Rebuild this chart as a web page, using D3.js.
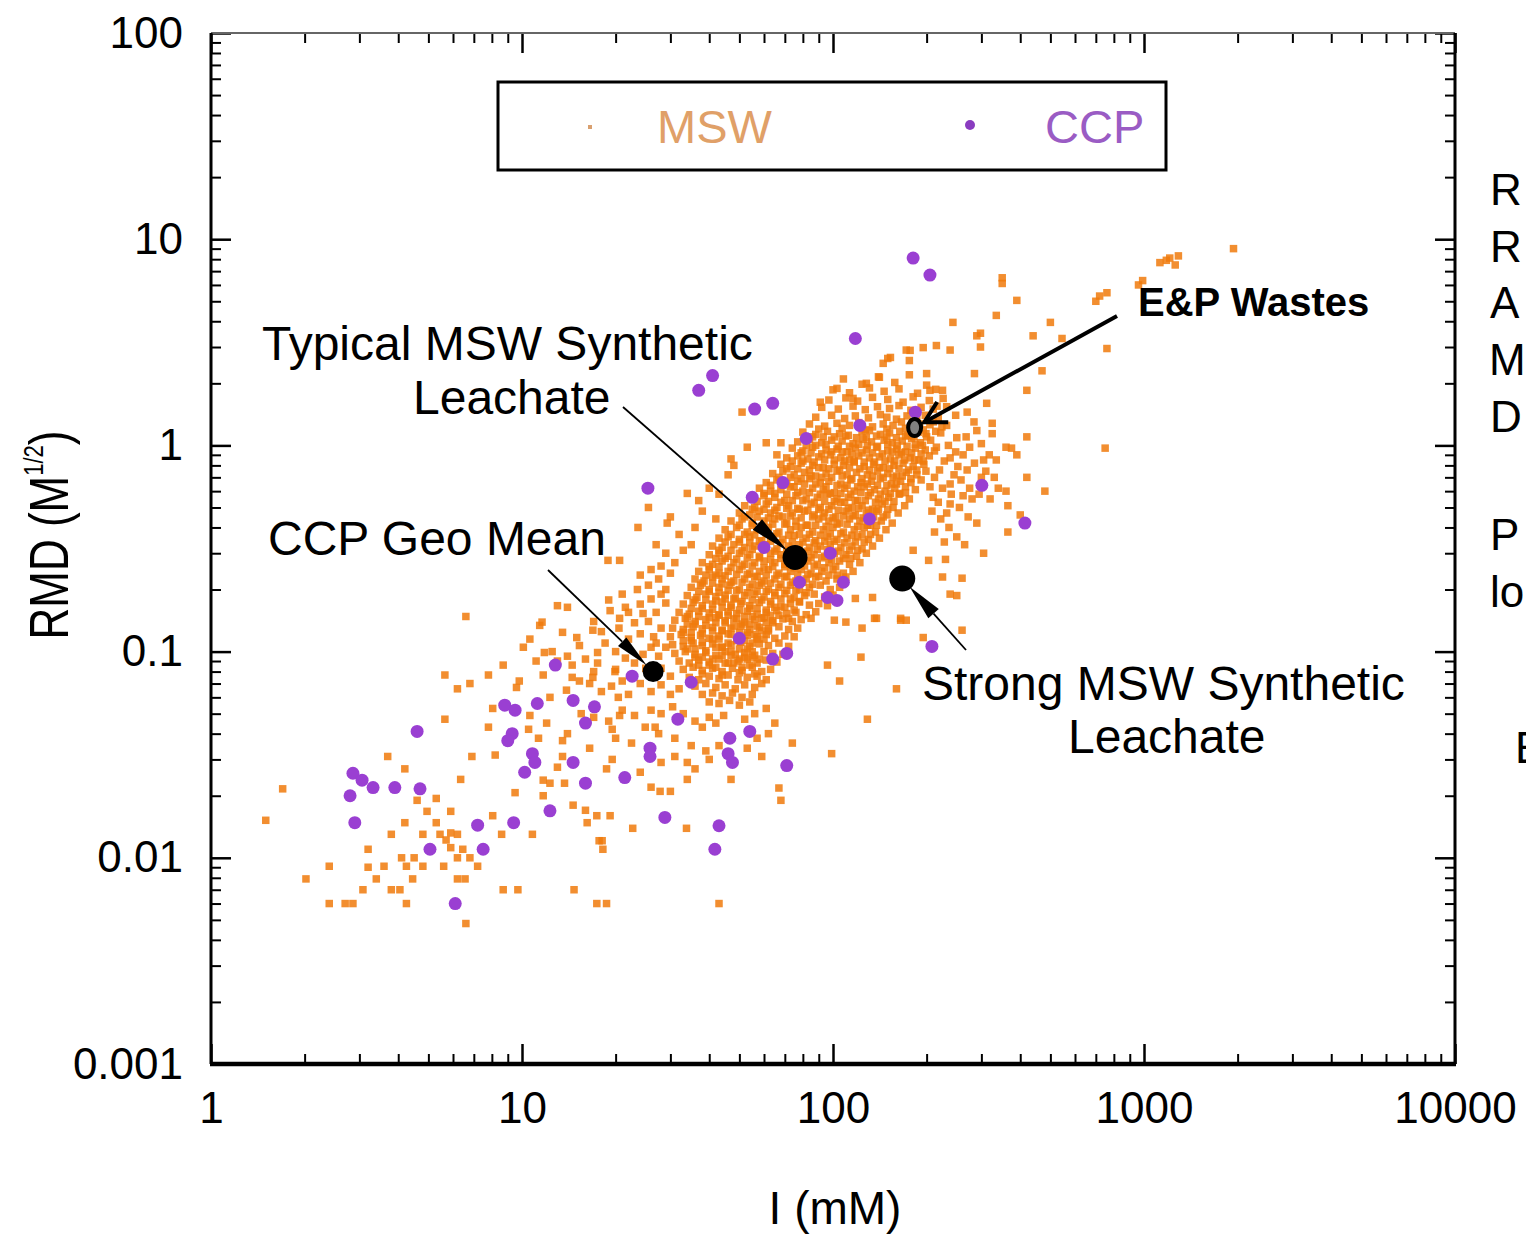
<!DOCTYPE html>
<html>
<head>
<meta charset="utf-8">
<script src="https://cdn.jsdelivr.net/npm/d3@7"></script>
<style>
  body { margin: 0; background: #fff; }
  svg text { font-family: "Liberation Sans", Arial, Helvetica, sans-serif; }
</style>
</head>
<body>
<script>
// ionic strength I (mM) vs RMD (M^1/2)

// dense MSW cloud
const mswCore = [
  [108,2.1],[124,1.98],[140,2.15],[158,2.02],[176,2.2],[200,1.96],
  [100,1.86],[113,1.8],[131,1.9],[146,1.83],[163,1.88],[187,1.79],[214,1.87],
  [97,1.66],[110,1.7],[120,1.64],[134,1.71],[150,1.67],[168,1.62],[181,1.72],[204,1.65],[226,1.69],
  [92,1.53],[104,1.5],[116,1.55],[127,1.49],[139,1.54],[152,1.51],[163,1.56],[178,1.48],[192,1.53],[210,1.5],[232,1.54],
  [88,1.37],[99,1.4],[109,1.35],[118,1.39],[130,1.36],[142,1.41],[149,1.37],[160,1.34],[173,1.39],[186,1.36],[198,1.4],[218,1.35],
  [84,1.27],[94,1.24],[103,1.28],[113,1.25],[121,1.29],[134,1.23],[145,1.27],[156,1.25],[166,1.3],[178,1.24],[190,1.27],[205,1.26],[224,1.23],
  [80,1.16],[88,1.13],[96,1.17],[105,1.14],[112,1.12],[124,1.16],[131,1.18],[142,1.13],[152,1.15],[164,1.17],[174,1.12],[188,1.16],[199,1.14],[214,1.17],
  [77,1.04],[84,1.07],[92,1.03],[99,1.06],[107,1.05],[116,1.02],[125,1.07],[133,1.04],[146,1.06],[155,1.03],[167,1.05],[179,1.08],[191,1.03],[206,1.06],
  [74,.97],[80,.94],[86,.98],[95,.95],[103,.96],[111,.93],[118,.97],[128,.95],[138,.98],[150,.94],[160,.96],[171,.93],[184,.97],[198,.95],[212,.94],
  [71,.87],[77,.89],[83,.86],[90,.88],[98,.9],[106,.87],[113,.85],[121,.89],[131,.87],[141,.88],[153,.86],[163,.9],[177,.87],[189,.85],[204,.89],
  [68,.81],[73,.79],[79,.82],[86,.8],[93,.78],[101,.81],[108,.8],[117,.83],[126,.79],[135,.81],[145,.78],[157,.8],[168,.82],[181,.79],[196,.81],
  [64,.73],[69,.75],[75,.72],[81,.74],[88,.71],[95,.73],[103,.75],[111,.72],[119,.74],[129,.72],[139,.75],[150,.73],[160,.71],[172,.74],[186,.72],[199,.75],
  [61,.66],[66,.68],[71,.65],[77,.67],[84,.69],[91,.66],[97,.67],[106,.65],[114,.68],[123,.66],[133,.67],[142,.69],[154,.65],[165,.67],[178,.66],[192,.68],
  [58,.62],[63,.6],[68,.61],[73,.63],[80,.6],[86,.62],[93,.61],[101,.59],[109,.62],[117,.6],[126,.63],[136,.61],[147,.6],[158,.62],[171,.59],[184,.61],
  [55,.55],[60,.57],[65,.56],[70,.54],[76,.57],[82,.55],[89,.56],[96,.58],[103,.55],[112,.56],[120,.54],[130,.57],[140,.55],[151,.56],[163,.58],[176,.55],
  [52,.51],[56,.5],[61,.52],[66,.5],[72,.51],[78,.49],[85,.52],[91,.5],[99,.51],[106,.53],[115,.5],[124,.51],[134,.49],[144,.52],[156,.5],[170,.51],
  [50,.47],[54,.46],[58,.48],[63,.47],[69,.45],[74,.47],[81,.48],[87,.46],[94,.47],[102,.45],[110,.48],[118,.46],[128,.47],[138,.48],[149,.46],[162,.47],
  [47,.43],[51,.44],[55,.42],[60,.43],[65,.44],[71,.42],[76,.43],[83,.41],[90,.44],[97,.43],[105,.42],[113,.44],[122,.43],[132,.41],[143,.43],[155,.42],
  [45,.39],[49,.4],[53,.38],[57,.39],[62,.4],[67,.38],[73,.39],[79,.4],[86,.38],[93,.39],[100,.4],[108,.38],[117,.39],[126,.4],[137,.38],[148,.39],
  [43,.355],[46,.36],[50,.35],[54,.36],[59,.345],[64,.36],[69,.35],[75,.365],[82,.355],[88,.345],[96,.36],[103,.35],[111,.355],[120,.36],[130,.35],[141,.355],
  [41,.325],[44,.32],[48,.33],[52,.32],[56,.325],[61,.33],[66,.315],[72,.325],[78,.33],[84,.32],[91,.325],[98,.33],[106,.32],[115,.325],[124,.315],[134,.325],
  [40,.295],[43,.3],[46,.29],[50,.3],[54,.295],[58,.29],[63,.3],[68,.295],[74,.29],[80,.3],[87,.295],[94,.29],[101,.3],[110,.295],[119,.29],[128,.3],
  [38,.27],[41,.265],[44,.275],[48,.27],[52,.265],[56,.27],[60,.275],[65,.27],[70,.265],[76,.27],[83,.275],[89,.265],[97,.27],[105,.275],[113,.265],[122,.27],
  [37,.245],[40,.25],[43,.24],[46,.245],[50,.25],[54,.24],[58,.245],[62,.25],[67,.24],[73,.245],[79,.25],[85,.24],[92,.245],[100,.25],[108,.24],[116,.245],
  [36,.225],[38.5,.22],[41,.23],[44,.225],[48,.22],[52,.225],[56,.23],[60,.22],[65,.225],[70,.23],[76,.22],[82,.225],[88,.23],[95,.22],[103,.225],[110,.23],
  [35,.205],[37.5,.21],[40,.2],[43,.205],[46.5,.21],[50,.2],[54,.205],[58,.21],[62,.2],[67,.205],[73,.21],[78,.2],[84,.205],[91,.21],[98,.2],[105,.205],
  [34,.187],[36.5,.183],[39,.19],[42,.185],[45,.188],[48.5,.182],[52,.187],[56,.19],[60,.184],[65,.187],[70,.191],[75,.183],[81,.187],[87,.19],[94,.184],[100,.188],
  [33,.17],[35.5,.173],[38,.167],[41,.17],[44,.174],[47,.168],[50.5,.171],[54,.167],[58,.173],[63,.17],[68,.166],[73,.171],[78,.174],[84,.168],[90,.171],[96,.167],
  [32,.155],[34.5,.152],[37,.157],[40,.154],[43,.151],[46,.156],[49,.153],[53,.157],[57,.152],[61,.155],[66,.158],[71,.153],[76,.155],[82,.151],[88,.156],
  [31,.142],[33.5,.145],[36,.14],[39,.143],[42,.146],[45,.141],[48,.144],[52,.139],[56,.143],[60,.146],[64,.141],[69,.144],[74,.14],[79,.143],[85,.145],
  [30.5,.13],[33,.128],[35.5,.132],[38,.129],[41,.131],[44,.127],[47,.13],[50.5,.133],[54,.128],[58,.131],[62,.129],[67,.132],[72,.128],[77,.13],
  [30,.118],[32.5,.121],[35,.117],[37.5,.12],[40,.116],[43,.119],[46,.122],[49.5,.117],[53,.12],[57,.118],[61,.121],[65,.116],[70,.119],[75,.118],
  [30.5,.108],[33,.106],[35.5,.11],[38,.107],[41,.109],[44,.105],[47,.108],[50.5,.111],[54,.106],[58,.109],[62,.107],[67,.11],[72,.106],
  [31,.098],[33.5,.1],[36,.097],[39,.099],[42,.096],[45,.1],[48.5,.097],[52,.099],[56,.096],[60,.1],[64,.098],[69,.097],
  [32,.09],[34.5,.088],[37,.091],[40,.089],[43,.092],[46,.088],[49.5,.09],[53,.092],[57,.088],[61,.091],[66,.089],
  [33,.082],[35.5,.084],[38,.081],[41,.083],[44,.08],[47.5,.083],[51,.081],[55,.084],[59,.08],[63,.082],
  [34.5,.075],[37,.073],[40,.076],[43,.074],[46,.077],[49.5,.073],[53,.075],[57,.076],[61,.073],
  [36,.068],[39,.07],[42,.067],[45,.069],[48.5,.066],[52,.069],[56,.067],[59,.07],
  [38,.062],[41,.063],[44,.061],[47.5,.063],[51,.06],[55,.062],
  [40,.057],[43,.056],[46.5,.058],[50,.055],[54,.057],
  // hottest part of the cloud
  [86,1.1],[101,1.1],[119,1.09],[138,1.11],[160,1.09],[182,1.1],
  [82,1.0],[95,1.01],[113,.99],[129,1.0],[150,1.01],[173,.99],[194,1.0],
  [79,.92],[92,.91],[107,.93],[124,.92],[144,.91],[166,.92],[192,.91],
  [74,.84],[87,.83],[101,.85],[117,.84],[136,.83],[158,.84],[183,.85],
  [71,.77],[84,.76],[97,.77],[113,.78],[131,.76],[152,.77],[175,.76],
  [67,.7],[79,.69],[92,.7],[107,.71],[124,.69],[145,.7],[167,.71],
  [63,.64],[75,.63],[88,.65],[103,.64],[120,.63],[139,.64],[160,.65],
  [60,.585],[71,.58],[84,.59],[98,.585],[114,.58],[132,.59],[153,.585],
  [57,.535],[68,.53],[80,.54],[94,.535],[109,.53],[127,.54],[147,.535],
  [55,.49],[65,.485],[77,.495],[90,.49],[104,.485],[121,.495],[140,.49],
  [52,.45],[62,.445],[73,.455],[86,.45],[100,.445],[116,.455],[135,.45],
  [50,.41],[59,.405],[70,.415],[82,.41],[95,.405],[111,.415],[129,.41],
  [47,.37],[56,.368],[66,.373],[78,.37],[91,.367],[106,.373],[124,.37],
  [45,.34],[54,.338],[63,.343],[74,.34],[87,.337],[101,.343],[118,.34],
  [43,.31],[51,.308],[60,.313],[71,.31],[83,.307],[96,.313],[113,.31],
  [42,.283],[49,.281],[58,.285],[68,.283],[79,.28],[92,.285],[108,.283],
  [40,.258],[47,.256],[55,.26],[64,.258],[75,.255],[87,.26],[102,.258],
  [39,.235],[45,.233],[53,.237],[61,.235],[71,.232],[83,.237],[97,.235],
  [38,.215],[44,.213],[51,.217],[59,.215],[68,.212],[80,.217],
  [37,.196],[43,.194],[49,.198],[57,.196],[65,.193],[76,.198],
  [36,.178],[42,.176],[48,.18],[55,.178],[63,.175],[73,.18],
  [35,.162],[41,.16],[47,.164],[54,.162],[61,.159],[70,.164],
  [34,.148],[40,.146],[46,.15],[52,.148],[59,.145],[67,.15],
  [34,.136],[39,.134],[45,.138],[51,.136],[57,.133],[64,.138],
  [33,.124],[38,.122],[44,.126],[50,.124],[56,.121],[62,.126],
  [33,.113],[38,.111],[43,.115],[49,.113],[55,.11],[60,.115],
  [34,.103],[39,.101],[44,.105],[50,.103],[55,.1],
  [36,.094],[41,.092],[47,.096],[52,.094],[58,.092],
  [37,.086],[42,.084],[48,.088],[54,.086],
  [38,.078],[44,.077],[50,.079],[56,.078],
  // filling the gaps of the solid part
  [90,1.2],[107,1.21],[127,1.19],[149,1.2],[171,1.21],[195,1.19],
  [93,1.1],[110,1.11],[128,1.09],[149,1.1],[171,1.11],[200,1.1],
  [88,1.0],[104,.99],[121,1.01],[139,.99],[161,1.0],[184,1.01],
  [85,.92],[99,.93],[115,.91],[134,.92],[155,.93],[179,.92],
  [80,.84],[94,.85],[109,.84],[126,.83],[147,.84],[170,.85],[195,.84],
  [77,.77],[90,.78],[105,.76],[122,.77],[141,.78],[163,.77],[186,.76],
  [73,.7],[85,.71],[99,.7],[115,.69],[134,.71],[156,.7],[178,.69],
  [69,.64],[81,.65],[95,.63],[111,.64],[129,.65],[149,.64],[171,.63],
  [65,.585],[77,.59],[91,.58],[106,.585],[123,.59],[142,.58],[164,.585],
  [62,.535],[74,.54],[87,.53],[101,.535],[118,.54],[137,.53],[157,.535],
  [60,.49],[71,.495],[83,.485],[97,.49],[112,.495],[130,.485],[150,.49],
  [57,.45],[67,.455],[79,.445],[93,.45],[108,.455],[125,.445],[145,.45],
  [55,.41],[64,.415],[76,.405],[88,.41],[103,.415],[120,.405],[138,.41],
  [52,.37],[61,.373],[72,.367],[84,.37],[98,.373],[115,.367],[132,.37],
  [50,.34],[58,.343],[68,.337],[80,.34],[94,.343],[109,.337],[126,.34],
  [47,.31],[55,.313],[65,.307],[77,.31],[89,.313],[104,.307],[120,.31],
  [45,.283],[53,.285],[63,.28],[73,.283],[85,.285],[99,.28],[114,.283],
  [43,.258],[51,.26],[60,.255],[70,.258],[81,.26],[94,.255],
  [42,.235],[49,.237],[57,.232],[66,.235],[77,.237],[90,.232],[103,.235],
  [41,.215],[47,.217],[55,.212],[63,.215],[74,.217],[86,.212],
  [40,.196],[46,.198],[53,.193],[61,.196],[71,.198],[82,.193],
  [39,.178],[45,.18],[51,.175],[59,.178],[68,.18],[78,.175],
  [38,.162],[44,.164],[50,.159],[57,.162],[65,.164],[75,.159],
  [37,.148],[43,.15],[49,.145],[55,.148],[63,.15],[72,.145],
  [36,.136],[42,.138],[48,.133],[54,.136],[61,.138],
  [35,.124],[41,.126],[47,.121],[53,.124],[59,.126],
  [35,.113],[41,.115],[46,.11],[52,.113],[57,.115],
  [36,.103],[42,.105],[47,.1],[53,.103],
  [38,.094],[44,.096],[50,.092],[55,.094],
  [40,.086],[45,.088],[51,.084]
];

// scattered MSW points around the cloud
const mswSpread = [
  // lower left tail
  [6.6,.148],[5.65,.077],[6.2,.066],[6.8,.07],[7.8,.077],[8.7,.086],[5.65,.047],[3.7,.031],[4.2,.027],[1.7,.0216],
  [1.5,.0152],[6.9,.031],[6.35,.024],[8.2,.0315],[7.8,.043],[8.05,.053],[9.8,.072],[9.6,.067],[10.6,.049],[11.3,.038],
  [13.5,.037],[13.5,.031],[13,.0275],[12.3,.023],[11.7,.02],[14.6,.018],[16,.017],[17.4,.016],[19.2,.016],[22.7,.0139],
  [18.1,.0121],[18.2,.011],[14.7,.007],[17.4,.006],[18.7,.006],[8.7,.007],[9.7,.007],[6.6,.0048],[4.25,.006],[2.86,.006],
  [2.7,.006],[2.4,.006],[2.02,.0079],[2.4,.0091],[3.08,.007],[3.8,.007],[4.05,.007],[3.4,.0079],[3.2,.009],[3.2,.011],
  [3.6,.0091],[4.1,.01],[4.25,.0091],[4.5,.01],[4.8,.0091],[4.45,.0079],[5.6,.0091],[6.2,.0079],[6.56,.0079],[6.2,.01],
  [5.9,.0112],[5.7,.0122],[6.45,.011],[6.8,.01],[7.2,.0091],[5.9,.0132],[6.2,.013],[5.45,.013],[4.8,.013],[3.8,.013],
  [4.2,.0148],[5.3,.0148],[4.95,.0168],[5.9,.0168],[4.6,.019],[5.3,.0194],[8.05,.016],[8.6,.013],[10.8,.013],[16.2,.0148],
  [18.7,.027],[19.5,.042],[24.9,.043],[26.8,.043],[20.6,.049],[9.5,.0207],[13.7,.023],[11.7,.0238],
  // band between 10 and 30 mM
  [14.5,.086],[16.9,.075],[20.4,.06],[19.4,.068],[13.9,.065],[12.3,.06],[15.3,.072],[11.7,.077],[15.3,.107],[17.5,.099],
  [19.9,.08],[13.5,.124],[11.4,.134],[10.6,.115],[10.1,.105],[11.8,.099],[11.1,.09],[13,.09],[15,.117],[16.9,.127],
  [19.2,.158],[21.5,.164],[14,.164],[13,.167],[11.6,.139],[20.6,.145],[24.5,.153],
  [12.5,.1],[14,.095],[16,.092],[17.5,.088],[18.5,.11],[20,.1],[21.5,.093],[23,.088],[24.5,.097],[26,.105],
  [27.5,.095],[22,.115],[24,.122],[26.5,.118],[28,.13],[18,.125],[20.5,.13],[23,.138],[25.5,.14],[27,.155],
  [22,.155],[24,.17],[26,.18],[28,.19],[29,.172],[17,.14],[19,.178],[21,.19],[23.5,.2],[25.5,.21],
  [27.5,.225],[29,.2],[30,.24],[26,.25],[24,.235],[28,.26],[31,.27],[29,.3],[33,.31],[35,.33],
  [24,.07],[26,.064],[28,.069],[30,.062],[32,.066],[22,.062],[18,.064],[16.5,.07],[21,.072],[25,.083],
  [28,.083],[30,.076],[27,.11],[29,.105],[20,.082],[17,.08],[14.5,.075],
  // below the cloud
  [15.5,.05],[17,.048],[19,.046],[21,.052],[23,.049],[26,.052],[28,.05],[30.5,.054],[33,.05],[36,.046],
  [38,.043],[40,.048],[42,.045],[44.5,.049],[52,.047],[56,.05],[61,.053],[65,.045],[20,.038],[22.5,.036],
  [27.5,.04],[31,.038],[35,.035],[39,.033],[28,.029],[31,.031],[36,.027],[40,.03],[43,.035],[53,.034],
  [57,.038],[62,.04],[24,.026],[26,.022],[19.5,.03],[16.5,.034],[14,.04],[12,.045],[10.5,.042],
  [101,.142],[110,.139],[124,.13],[136,.145],[165,.142],[172,.142],[123,.094],[96,.086],[105,.072],[160,.066],
  [129,.047],[74,.036],[99,.032],[59,.031],[67,.0218],[68,.019],[47,.024],[34,.024],[34,.029],[30,.021],
  [17.7,.0121],[33.8,.0139],[43,.006],[27.8,.021],
  // upper left of the cloud
  [51,1.45],[53,.98],[61,1.03],[68,1.03],[91,1.62],[103,1.89],[116,1.69],[66,.9],[47,.86],[48,.8],
  [46,.72],[34,.585],[37,.54],[29.3,.42],[23.6,.4],[25.5,.5],[20.6,.277],[18.9,.277],[40,.62],[43,.58],
  [38,.48],[42,.44],[32,.37],[36,.4],[27,.33],[30,.45],
  // upper right, towards the E&P wastes
  [1125,7.7],[1210,8.1],[1290,8.3],[1260,7.5],[1180,7.9],[1940,9],[990,6.3],[960,6.0],[720,5.3],[760,5.5],
  [700,5.0],[350,6.5],[350,6.1],[390,5.05],[335,4.27],[500,3.95],[243,3.95],[440,3.4],[545,3.3],[298,3.5],
  [298,3.0],[760,2.95],[470,2.3],[285,2.23],[420,1.85],[238,2.9],[215,3.05],[195,2.98],[172,2.9],[153,2.67],
  [176,2.58],[145,2.5],[128,2.0],[141,2.14],[200,2.23],[225,1.85],[205,1.85],[312,1.6],[270,1.45],[325,1.28],
  [325,1.14],[375,.97],[290,1.18],[275,.98],[250,1.09],[238,.87],[305,.85],[335,.85],[270,.76],[238,.65],
  [220,.76],[210,.56],[238,.52],[365,.51],[365,.38],[750,.97],[265,.33],[305,.3],[230,.28],[203,.277],
  [181,.31],[225,.23],[260,.227],[238,.19],[250,.187],[134,.183],[118,.181],[165,.145],[138,.145],[260,.127],
  [195,.117],[290,3.4],[177,2.89],[150,2.64],[360,.98],
  [210,1.3],[222,1.15],[235,1.0],[248,.93],[262,.9],[285,.82],[310,.75],[330,.7],[215,.98],[228,.84],
  [245,.72],[258,.68],[275,.62],[295,.58],[320,.55],[212,.7],[225,.62],[240,.58],[255,.5],[272,.45],
  [290,.42],[208,.48],[222,.44],[236,.4],[250,.36],[212,.38],[228,.34],[300,.7],[340,.62],[280,.55],
  [205,.63],[218,.53],[232,.47],[262,.57],[252,.79],[268,1.1],[232,1.25],[248,1.4],[216,1.55],[284,1.3],
  [300,1.02],[318,.9],[390,.9],[420,.7],[360,.6],[400,.46],[480,.6],[420,1.1]
];

const mswPoints = mswCore.concat(mswSpread);

const ccpPoints = [
  [181,8.1],[205,6.7],[118,3.3],[41,2.18],[37,1.85],[56,1.5],[64,1.6],[82,1.08],[122,1.25],[184,1.45],
  [25.4,.62],[69,.66],[55,.56],[131,.44],[301,.64],[414,.42],[98,.3],[60,.32],[78,.217],[108,.217],
  [96,.183],[103,.177],[208,.106],[50,.116],[64,.092],[71,.098],[35,.071],[22.6,.076],[12.8,.086],[14.6,.058],
  [17.1,.054],[16,.045],[31.7,.047],[54,.041],[46.6,.038],[25.8,.034],[46,.032],[47.5,.029],[71,.028],[21.4,.0245],
  [28.8,.0157],[43,.0143],[41.7,.011],[8.8,.055],[9.5,.052],[11.2,.056],[9.3,.04],[9.0,.037],[4.6,.041],[10.8,.032],
  [11,.029],[10.2,.026],[25.8,.031],[16,.023],[12.3,.0169],[2.86,.0257],[3.06,.0238],[3.32,.0219],[3.9,.0219],[4.7,.0216],
  [2.8,.02],[2.9,.0148],[7.2,.0144],[9.4,.0148],[5.06,.011],[7.5,.011],[6.1,.006],[14.6,.029]
];

// highlighted reference solutions
const callouts = [
  { key: "typical", I: 75.5, RMD: 0.286 },
  { key: "ccpMean", I: 26.4, RMD: 0.080 },
  { key: "strong", I: 167, RMD: 0.226 },
  { key: "ep", I: 183, RMD: 1.22 }
];

const xTicks = [1, 10, 100, 1000, 10000];
const xTickLabels = ["1", "10", "100", "1000", "10000"];
const yTicks = [0.001, 0.01, 0.1, 1, 10, 100];
const yTickLabels = ["0.001", "0.01", "0.1", "1", "10", "100"];

const w = 1526;
const h = 1235;
const plotLeft = 211, plotRight = 1455, plotTop = 33, plotBottom = 1064;
const font = "'Liberation Sans', Arial, Helvetica, sans-serif";

const svg = d3.select("body")
  .append("svg")
  .attr("width", w)
  .attr("height", h);

const x = d3.scaleLog().domain([1, 10000]).range([plotLeft, plotRight]);
const y = d3.scaleLog().domain([0.001, 100]).range([plotBottom, plotTop]);

const isDecade = v => Math.abs(Math.log10(v) - Math.round(Math.log10(v))) < 1e-6;
const xMinor = x.ticks().filter(v => !isDecade(v));
const yMinor = y.ticks().filter(v => !isDecade(v));

// points first, frame on top later
const ms = 7.5;
svg.append("g")
  .selectAll("rect")
  .data(mswPoints)
  .enter()
  .append("rect")
  .attr("x", d => x(d[0]) - ms / 2)
  .attr("y", d => y(d[1]) - ms / 2)
  .attr("width", ms)
  .attr("height", ms)
  .attr("fill", "#f07a0c")
  .attr("fill-opacity", 0.85);

svg.append("g")
  .selectAll("circle")
  .data(ccpPoints)
  .enter()
  .append("circle")
  .attr("cx", d => x(d[0]))
  .attr("cy", d => y(d[1]))
  .attr("r", 6.5)
  .attr("fill", "#9a3fd2");

// axes, ticks pointing inward
function tickAxis(gen, transform, values, size, labels) {
  const g = svg.append("g")
    .attr("transform", transform)
    .call(gen.tickValues(values).tickSize(-size).tickPadding(28)
      .tickFormat(labels ? (d, i) => labels[i] : ""));
  g.select(".domain").remove();
  g.attr("font-size", 44).attr("font-family", font);
  g.selectAll("line").attr("stroke", "#000").attr("stroke-width", size > 15 ? 2.5 : 2);
  g.selectAll("text").attr("fill", "#000");
  return g;
}

tickAxis(d3.axisBottom(x), `translate(0,${plotBottom})`, xTicks, 20, xTickLabels);
tickAxis(d3.axisBottom(x), `translate(0,${plotBottom})`, xMinor, 10);
tickAxis(d3.axisTop(x), `translate(0,${plotTop})`, xTicks, 20);
tickAxis(d3.axisTop(x), `translate(0,${plotTop})`, xMinor, 10);
tickAxis(d3.axisLeft(y), `translate(${plotLeft},0)`, yTicks, 20, yTickLabels);
tickAxis(d3.axisLeft(y), `translate(${plotLeft},0)`, yMinor, 10);
tickAxis(d3.axisRight(y), `translate(${plotRight},0)`, yTicks, 20);
tickAxis(d3.axisRight(y), `translate(${plotRight},0)`, yMinor, 10);

// frame
svg.append("line").attr("x1", plotLeft).attr("x2", plotRight).attr("y1", plotTop).attr("y2", plotTop)
  .attr("stroke", "#666").attr("stroke-width", 2);
svg.append("line").attr("x1", plotLeft).attr("x2", plotLeft).attr("y1", plotTop).attr("y2", plotBottom)
  .attr("stroke", "#000").attr("stroke-width", 3);
svg.append("line").attr("x1", plotRight).attr("x2", plotRight).attr("y1", plotTop).attr("y2", plotBottom)
  .attr("stroke", "#000").attr("stroke-width", 3);
svg.append("line").attr("x1", plotLeft - 1).attr("x2", plotRight + 1).attr("y1", plotBottom).attr("y2", plotBottom)
  .attr("stroke", "#000").attr("stroke-width", 4.5);

// axis titles
svg.append("text")
  .attr("x", 835).attr("y", 1224)
  .attr("text-anchor", "middle")
  .attr("font-size", 46)
  .text("I (mM)");

const yTitle = svg.append("text")
  .attr("transform", "translate(68,535) rotate(-90) scale(1,1.25)")
  .attr("text-anchor", "middle")
  .attr("font-size", 44);
yTitle.append("tspan").text("RMD (M");
yTitle.append("tspan").attr("font-size", 22).attr("dy", -20).text("1/2");
yTitle.append("tspan").attr("dy", 20).text(")");

// legend
svg.append("rect")
  .attr("x", 498).attr("y", 82).attr("width", 668).attr("height", 88)
  .attr("fill", "#fff").attr("stroke", "#000").attr("stroke-width", 3);
svg.append("rect").attr("x", 588).attr("y", 125).attr("width", 4).attr("height", 4).attr("fill", "#d9a070");
svg.append("text").attr("x", 657).attr("y", 143).attr("font-size", 47).attr("fill", "#e0a068").text("MSW");
svg.append("circle").attr("cx", 970).attr("cy", 125).attr("r", 5).attr("fill", "#8a3cc0");
svg.append("text").attr("x", 1045).attr("y", 143).attr("font-size", 47).attr("fill", "#9a5cc4").text("CCP");

// callouts
const cp = {};
callouts.forEach(c => { cp[c.key] = [x(c.I), y(c.RMD)]; });

function pointer(from, to, r, headLen, headW) {
  const dx = to[0] - from[0], dy = to[1] - from[1];
  const len = Math.hypot(dx, dy);
  const ux = dx / len, uy = dy / len;
  const tip = [to[0] - ux * r, to[1] - uy * r];
  const base = [tip[0] - ux * headLen, tip[1] - uy * headLen];
  svg.append("line")
    .attr("x1", from[0]).attr("y1", from[1])
    .attr("x2", base[0]).attr("y2", base[1])
    .attr("stroke", "#000").attr("stroke-width", 1.8);
  svg.append("path")
    .attr("d", `M${tip[0]},${tip[1]}L${base[0] - uy * headW},${base[1] + ux * headW}` +
      `L${base[0] + uy * headW},${base[1] - ux * headW}Z`)
    .attr("fill", "#000");
}

pointer([623, 407], cp.typical, 10, 40, 7);
pointer([548, 570], cp.ccpMean, 9, 34, 6);
pointer([966, 650], cp.strong, 11, 36, 7);

svg.append("circle").attr("cx", cp.typical[0]).attr("cy", cp.typical[1]).attr("r", 12.5).attr("fill", "#000");
svg.append("circle").attr("cx", cp.ccpMean[0]).attr("cy", cp.ccpMean[1]).attr("r", 10.5).attr("fill", "#000");
svg.append("circle").attr("cx", cp.strong[0]).attr("cy", cp.strong[1]).attr("r", 13).attr("fill", "#000");

// E&P wastes: thick arrow with open head
{
  const from = [1117, 316], to = cp.ep;
  const dx = to[0] - from[0], dy = to[1] - from[1];
  const len = Math.hypot(dx, dy);
  const ux = dx / len, uy = dy / len;
  const tip = [to[0] - ux * 11, to[1] - uy * 11];
  svg.append("line")
    .attr("x1", from[0]).attr("y1", from[1]).attr("x2", tip[0]).attr("y2", tip[1])
    .attr("stroke", "#000").attr("stroke-width", 4);
  const a = 0.5, L = 24;
  const arm = s => [tip[0] - L * (ux * Math.cos(a) - s * uy * Math.sin(a)),
                    tip[1] - L * (uy * Math.cos(a) + s * ux * Math.sin(a))];
  const p1 = arm(1), p2 = arm(-1);
  svg.append("path")
    .attr("d", `M${p1[0]},${p1[1]}L${tip[0]},${tip[1]}L${p2[0]},${p2[1]}`)
    .attr("fill", "none").attr("stroke", "#000").attr("stroke-width", 4)
    .attr("stroke-linejoin", "miter");
  svg.append("ellipse")
    .attr("cx", to[0]).attr("cy", to[1]).attr("rx", 6.5).attr("ry", 8.5)
    .attr("fill", "#808080").attr("stroke", "#000").attr("stroke-width", 4);
}

const labelLines = [
  { text: "Typical MSW Synthetic", x: 262, y: 360 },
  { text: "Leachate", x: 413, y: 414 },
  { text: "CCP Geo Mean", x: 268, y: 555 },
  { text: "Strong MSW Synthetic", x: 922, y: 700 },
  { text: "Leachate", x: 1068, y: 753 }
];
svg.append("g")
  .selectAll("text")
  .data(labelLines)
  .enter()
  .append("text")
  .attr("x", d => d.x)
  .attr("y", d => d.y)
  .attr("font-size", 48)
  .attr("fill", "#000")
  .text(d => d.text);

svg.append("text")
  .attr("x", 1138).attr("y", 316)
  .attr("font-size", 40).attr("font-weight", "bold")
  .text("E&P Wastes");

// text of the neighbouring slide, cut off at the right edge
const sideText = [
  { t: "R", x: 1490, y: 205 }, { t: "R", x: 1490, y: 262 }, { t: "A", x: 1490, y: 318 },
  { t: "M", x: 1489, y: 375 }, { t: "D", x: 1490, y: 432 }, { t: "P", x: 1490, y: 550 },
  { t: "lo", x: 1490, y: 607 }, { t: "E", x: 1515, y: 763 }
];
svg.append("g")
  .selectAll("text")
  .data(sideText)
  .enter()
  .append("text")
  .attr("x", d => d.x)
  .attr("y", d => d.y)
  .attr("font-size", 44)
  .text(d => d.t);
</script>
</body>
</html>
